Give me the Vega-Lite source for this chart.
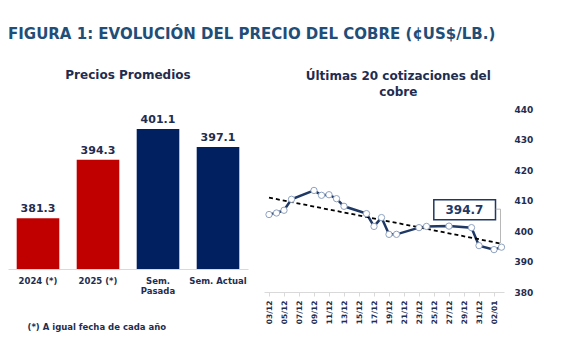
{
  "$schema": "https://vega.github.io/schema/vega-lite/v6.json",
  "background": "white",
  "padding": {"left": 8, "top": 27, "right": 10, "bottom": 5},
  "title": {"text": "FIGURA 1: EVOLUCIÓN DEL PRECIO DEL COBRE (¢US$/LB.)", "anchor": "start", "fontSize": 15, "fontWeight": "bold", "color": "#1F4E79", "font": "DejaVu Sans", "offset": 27},
  "config": {"font": "DejaVu Sans", "view": {"stroke": null}},
  "spacing": 15,
  "hconcat": [
    {
      "width": 240,
      "height": 180,
      "title": {"text": "Precios Promedios", "fontSize": 12, "fontWeight": "bold", "color": "#1F2D50", "frame": "bounds", "anchor": "middle", "offset": 7},
      "data": {"values": [
        {"periodo": "2024 (*)", "precio": 381.3},
        {"periodo": "2025 (*)", "precio": 394.3},
        {"periodo": "Sem. Pasada", "precio": 401.1},
        {"periodo": "Sem. Actual", "precio": 397.1}
      ]},
      "encoding": {
        "x": {"field": "periodo", "type": "nominal", "sort": null,
          "scale": {"paddingInner": 0.29, "paddingOuter": 0.145},
          "axis": {"title": "(*) A igual fecha de cada año", "titleFontSize": 8.5, "titleFontWeight": "bold", "titleColor": "#1F2D50", "titleAnchor": "start", "titleX": 19, "titleY": 57, "titleBaseline": "middle", "titleAlign": "left",
            "labelAngle": 0, "labelFontSize": 8.5, "labelFontWeight": "bold", "labelColor": "#1F2D50", "labelPadding": 7, "labelLineHeight": 10,
            "labelExpr": "datum.value == 'Sem. Pasada' ? ['Sem.', 'Pasada'] : datum.label",
            "ticks": false, "domainColor": "#D9D9D9", "domainWidth": 1}},
        "y": {"field": "precio", "type": "quantitative", "scale": {"domain": [370, 410], "zero": false}, "axis": null}
      },
      "layer": [
        {"mark": {"type": "bar"},
         "encoding": {"y2": {"datum": 370},
           "color": {"field": "periodo", "type": "nominal", "sort": null, "scale": {"domain": ["2024 (*)", "2025 (*)", "Sem. Pasada", "Sem. Actual"], "range": ["#C00000", "#C00000", "#002060", "#002060"]}, "legend": null}}},
        {"mark": {"type": "text", "dy": -6, "baseline": "alphabetic", "fontSize": 11, "fontWeight": "bold", "color": "#1F2D50"},
         "encoding": {"text": {"field": "precio", "type": "quantitative", "format": ".1f"}}}
      ]
    },
    {
      "width": 240,
      "height": 203,
      "title": {"text": ["Últimas 20 cotizaciones del", "cobre"], "fontSize": 12, "fontWeight": "bold", "color": "#1F2D50", "frame": "bounds", "anchor": "middle", "offset": -10, "lineHeight": 16},
      "data": {"values": [
        {"date": "2025-12-03", "precio": 405.4},
        {"date": "2025-12-04", "precio": 405.9},
        {"date": "2025-12-05", "precio": 406.8},
        {"date": "2025-12-06", "precio": 410.4},
        {"date": "2025-12-09", "precio": 413.3},
        {"date": "2025-12-10", "precio": 411.7},
        {"date": "2025-12-11", "precio": 411.9},
        {"date": "2025-12-12", "precio": 410.6},
        {"date": "2025-12-13", "precio": 408.1},
        {"date": "2025-12-16", "precio": 405.7},
        {"date": "2025-12-17", "precio": 401.5},
        {"date": "2025-12-18", "precio": 404.4},
        {"date": "2025-12-19", "precio": 398.9},
        {"date": "2025-12-20", "precio": 398.9},
        {"date": "2025-12-23", "precio": 401.1},
        {"date": "2025-12-24", "precio": 401.5},
        {"date": "2025-12-27", "precio": 401.6},
        {"date": "2025-12-30", "precio": 401.1},
        {"date": "2025-12-31", "precio": 395.2},
        {"date": "2026-01-02", "precio": 393.9},
        {"date": "2026-01-03", "precio": 394.7}
      ], "format": {"parse": {"date": "utc:'%Y-%m-%d'"}}},
      "encoding": {
        "x": {"field": "date", "type": "temporal",
          "scale": {"type": "utc", "domain": [{"year": 2025, "month": 12, "date": 2, "hours": 8, "utc": true}, {"year": 2026, "month": 1, "date": 3, "hours": 8, "utc": true}]},
          "axis": {"title": null, "format": "%d/%m", "labelAngle": 270, "labelFontSize": 7.5, "labelFontWeight": "bold", "labelColor": "#1F2D50", "labelPadding": 4, "labelOverlap": false, "labelFlush": false,
            "tickSize": 4, "tickColor": "#D9D9D9", "domainColor": "#D9D9D9", "grid": false,
            "values": [
              {"year": 2025, "month": 12, "date": 3, "utc": true},
              {"year": 2025, "month": 12, "date": 5, "utc": true},
              {"year": 2025, "month": 12, "date": 7, "utc": true},
              {"year": 2025, "month": 12, "date": 9, "utc": true},
              {"year": 2025, "month": 12, "date": 11, "utc": true},
              {"year": 2025, "month": 12, "date": 13, "utc": true},
              {"year": 2025, "month": 12, "date": 15, "utc": true},
              {"year": 2025, "month": 12, "date": 17, "utc": true},
              {"year": 2025, "month": 12, "date": 19, "utc": true},
              {"year": 2025, "month": 12, "date": 21, "utc": true},
              {"year": 2025, "month": 12, "date": 23, "utc": true},
              {"year": 2025, "month": 12, "date": 25, "utc": true},
              {"year": 2025, "month": 12, "date": 27, "utc": true},
              {"year": 2025, "month": 12, "date": 29, "utc": true},
              {"year": 2025, "month": 12, "date": 31, "utc": true},
              {"year": 2026, "month": 1, "date": 2, "utc": true}
            ]}},
        "y": {"field": "precio", "type": "quantitative", "scale": {"domain": [380, 440], "zero": false, "range": [203, 20]},
          "axis": {"orient": "right", "values": [380, 390, 400, 410, 420, 430, 440], "title": null, "domain": false, "ticks": false, "grid": false, "labelPadding": 10, "labelFontSize": 9, "labelFontWeight": "bold", "labelColor": "#1F2D50"}}
      },
      "layer": [
        {"mark": {"type": "line", "color": "#1F3864", "strokeWidth": 2.5}},
        {"transform": [{"regression": "precio", "on": "date"}],
         "mark": {"type": "line", "color": "black", "strokeWidth": 1.8, "strokeDash": [4, 3]}},
        {"mark": {"type": "point", "filled": true, "fill": "white", "stroke": "#8EA2C0", "strokeWidth": 1, "size": 40, "opacity": 1}},
        {"transform": [{"joinaggregate": [{"op": "max", "field": "date", "as": "last"}]}, {"filter": "time(datum.date) === time(datum.last)"}],
         "mark": {"type": "point", "shape": "M-1.354,-0.946L-0.12,-0.946L-0.12,-0.546L-1.354,-0.546Z", "size": 10000, "filled": true, "fill": "white", "stroke": "#1F3864", "strokeWidth": 1.5, "opacity": 1}},
        {"transform": [{"joinaggregate": [{"op": "max", "field": "date", "as": "last"}]}, {"filter": "time(datum.date) === time(datum.last)"}],
         "mark": {"type": "point", "shape": "M-0.12,-0.76L-0.02,-0.76L-0.02,-0.08", "size": 10000, "filled": false, "stroke": "#A6A6A6", "strokeWidth": 0.8, "opacity": 1}},
        {"transform": [{"joinaggregate": [{"op": "max", "field": "date", "as": "last"}]}, {"filter": "time(datum.date) === time(datum.last)"}],
         "mark": {"type": "text", "dx": -37, "dy": -37, "fontSize": 12, "fontWeight": "bold", "color": "#1F3864", "baseline": "middle", "align": "center"},
         "encoding": {"text": {"field": "precio", "type": "quantitative", "format": ".1f"}}}
      ]
    }
  ]
}
